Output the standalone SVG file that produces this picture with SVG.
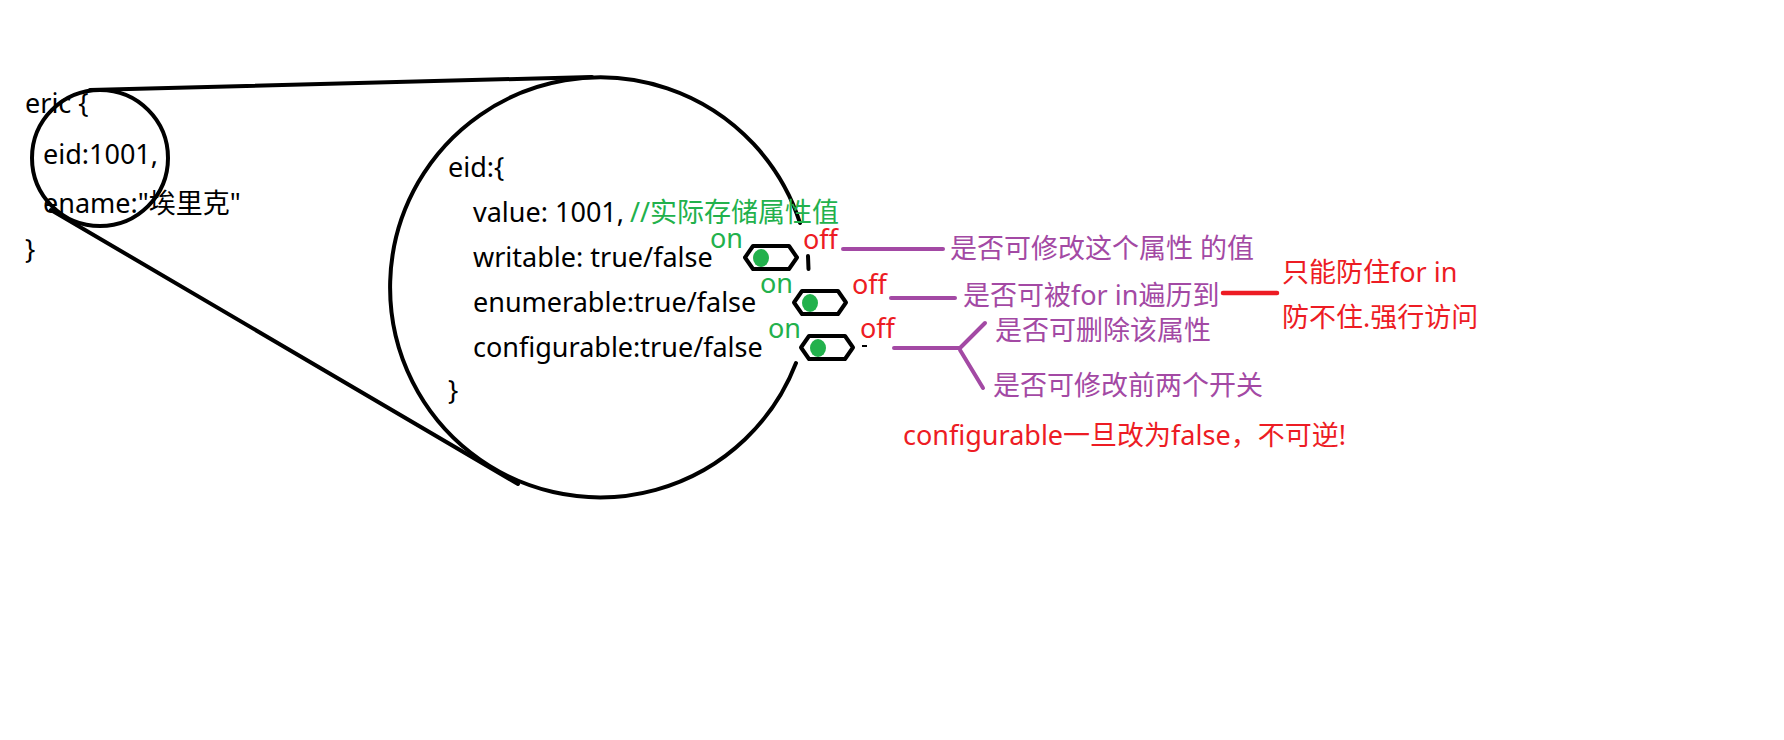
<svg xmlns="http://www.w3.org/2000/svg" width="1784" height="740" viewBox="0 0 1784 740">
<style>
text{font-family:"Noto Sans","Noto Sans CJK SC",sans-serif;font-size:27px}
.k{fill:#000}
.g{fill:#22b14c}
.r{fill:#ed1c24}
.p{fill:#a349a4}
.ln{fill:none;stroke:#000;stroke-width:4;stroke-linecap:round}
.pl{fill:none;stroke:#a349a4;stroke-width:4;stroke-linecap:round;stroke-linejoin:round}
.rl{fill:none;stroke:#ed1c24;stroke-width:4.5;stroke-linecap:round}
.sw{fill:#fff;stroke:#000;stroke-width:4;stroke-linejoin:round}
.dot{fill:#22b14c}
</style>
<defs>
<path id="capsule" d="M8,0 H44 L52,11.5 L44,23 H8 L0,11.5 Z"/>
</defs>
<rect width="1784" height="740" fill="#fff"/>

<g id="connectors">
<line class="ln" x1="90" y1="90" x2="592" y2="77"/>
<line class="ln" x1="51" y1="210" x2="518" y2="484"/>
<line class="pl" x1="843" y1="249" x2="943" y2="249"/>
<line class="pl" x1="891" y1="298" x2="955" y2="298"/>
<path class="pl" d="M894,348 H960 L985,323 M960,350 L983,388"/>
<line class="rl" x1="1223" y1="293" x2="1277" y2="293"/>
</g>

<g id="eric-object">
<circle class="ln" cx="100" cy="158" r="68"/>
<text class="k" x="25" y="113">eric {</text>
<text class="k" x="43" y="164">eid:1001,</text>
<text class="k" x="43" y="213">ename:"埃里克"</text>
<text class="k" x="25" y="259">}</text>
</g>

<g id="eid-descriptor">
<path class="ln" d="M800,223 A210,210 0 1 0 796,363"/>
<line class="ln" x1="808" y1="256" x2="808.5" y2="269"/>
<line x1="862" y1="346" x2="867" y2="346" stroke="#000" stroke-width="2"/>
<text class="k" x="448" y="177">eid:{</text>
<text class="k" x="473" y="222">value: 1001,</text>
<text class="g" x="630" y="222">//实际存储属性值</text>
<text class="k" x="473" y="267">writable: true/false</text>
<text class="k" x="473" y="312">enumerable:true/false</text>
<text class="k" x="473" y="357">configurable:true/false</text>
<text class="k" x="448" y="400">}</text>
</g>

<g id="switch-writable">
<use href="#capsule" class="sw" x="745" y="246"/>
<ellipse class="dot" cx="761" cy="258" rx="8" ry="9"/>
<text class="g" x="710" y="248">on</text>
<text class="r" x="803" y="249">off</text>
</g>

<g id="switch-enumerable">
<use href="#capsule" class="sw" x="794" y="291"/>
<ellipse class="dot" cx="810" cy="303" rx="8" ry="9"/>
<text class="g" x="760" y="293">on</text>
<text class="r" x="852" y="294">off</text>
</g>

<g id="switch-configurable">
<use href="#capsule" class="sw" x="801" y="336"/>
<ellipse class="dot" cx="818" cy="348" rx="8" ry="9"/>
<text class="g" x="768" y="338">on</text>
<text class="r" x="860" y="338">off</text>
</g>

<g id="note-writable">
<text class="p" x="950" y="258">是否可修改这个属性 <tspan x="1200">的值</tspan></text>
</g>
<g id="note-enumerable">
<text class="p" x="963" y="305">是否可被for in遍历到</text>
</g>
<g id="note-enumerable-limit">
<text class="r" x="1282" y="282">只能防住for in</text>
<text class="r" x="1282" y="327">防不住.强行访问</text>
</g>
<g id="note-configurable">
<text class="p" x="995" y="340">是否可删除该属性</text>
<text class="p" x="993" y="395">是否可修改前两个开关</text>
</g>
<g id="note-irreversible">
<text class="r" x="903" y="445">configurable一旦改为false，不可逆!</text>
</g>
</svg>
